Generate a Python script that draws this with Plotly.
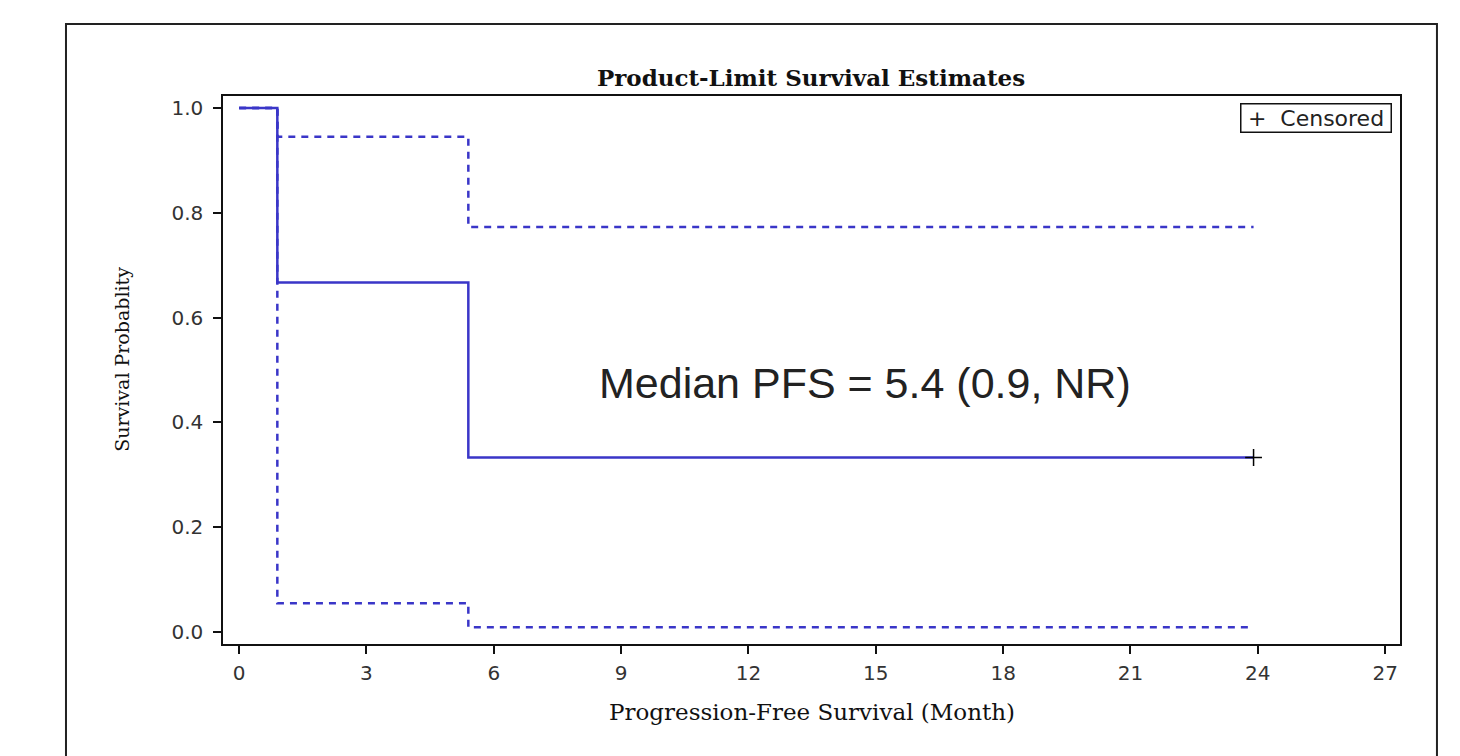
import plotly.graph_objects as go

# Kaplan-Meier step data (time in months)
km_time = [0, 0.9, 0.9, 5.4, 5.4, 23.9]
km_surv = [1.0, 1.0, 0.667, 0.667, 0.333, 0.333]

# Pointwise confidence limits
ci_time = [0, 0.9, 0.9, 5.4, 5.4, 23.9]
ci_upper = [1.0, 1.0, 0.945, 0.945, 0.773, 0.773]
ci_lower = [1.0, 1.0, 0.055, 0.055, 0.009, 0.009]

# Censored observations
cens_time = [23.9]
cens_surv = [0.333]

x_ticks = [0, 3, 6, 9, 12, 15, 18, 21, 24, 27]
y_ticks = [0.0, 0.2, 0.4, 0.6, 0.8, 1.0]

BLUE = "#3a36c8"
SERIF = "DejaVu Serif"
SANS = "DejaVu Sans"

fig = go.Figure()

fig.add_trace(go.Scatter(x=ci_time, y=ci_upper, mode="lines",
                         line=dict(color=BLUE, width=2.5, dash="7px,6px"),
                         showlegend=False, hoverinfo="skip"))
fig.add_trace(go.Scatter(x=ci_time, y=ci_lower, mode="lines",
                         line=dict(color=BLUE, width=2.5, dash="7px,6px"),
                         showlegend=False, hoverinfo="skip"))
fig.add_trace(go.Scatter(x=km_time, y=km_surv, mode="lines",
                         line=dict(color=BLUE, width=2.5),
                         showlegend=False))
fig.add_trace(go.Scatter(x=cens_time, y=cens_surv, mode="markers",
                         marker=dict(symbol="cross-thin", size=12,
                                     line=dict(color="black", width=1.5)),
                         showlegend=False))

fig.update_xaxes(range=[-0.38, 27.35], tickvals=x_ticks,
                 ticktext=[str(v) for v in x_ticks],
                 showgrid=False, zeroline=False,
                 showline=True, linecolor="#111", linewidth=1.5, mirror=True,
                 ticks="outside", ticklen=8, tickwidth=1.5, tickcolor="#111",
                 ticklabelstandoff=2,
                 tickfont=dict(family=SANS, size=20, color="#333"))
fig.update_yaxes(range=[-0.0229, 1.0229], tickvals=y_ticks,
                 ticktext=[f"{v:.1f}" for v in y_ticks],
                 showgrid=False, zeroline=False,
                 showline=True, linecolor="#111", linewidth=1.5, mirror=True,
                 ticks="outside", ticklen=8, tickwidth=1.5, tickcolor="#111",
                 ticklabelstandoff=6,
                 tickfont=dict(family=SANS, size=20, color="#333"))

# axis titles
fig.add_annotation(x=0.5, y=-0.124, xref="paper", yref="paper",
                   xanchor="center", yanchor="middle", showarrow=False,
                   text="Progression-Free Survival (Month)",
                   font=dict(family=SERIF, size=23, color="#111"))
fig.add_annotation(x=-0.086, y=0.52, xref="paper", yref="paper",
                   xanchor="center", yanchor="middle", showarrow=False,
                   textangle=-90, text="Survival Probablity",
                   font=dict(family=SERIF, size=19, color="#111"))

fig.add_annotation(x=14.75, y=0.475, xref="x", yref="y",
                   text="Median PFS = 5.4 (0.9, NR)", showarrow=False,
                   font=dict(family="Liberation Sans", size=43, color="#222"))

# censoring key
fig.add_annotation(x=0.9935, y=0.987, xref="paper", yref="paper",
                   xanchor="right", yanchor="top",
                   text="+  Censored", showarrow=False,
                   width=146, height=24, align="center",
                   bordercolor="#111", borderwidth=1.5, borderpad=1.5,
                   font=dict(family=SANS, size=22, color="#222"))

# outer frame around the whole graphic
fig.add_shape(type="rect", xref="paper", yref="paper",
              x0=-0.1334, x1=1.0314, y0=-0.22, y1=1.1314,
              line=dict(color="#222", width=2))

fig.update_layout(
    width=1460, height=756,
    margin=dict(l=223, r=60, t=96, b=112),
    paper_bgcolor="white", plot_bgcolor="white",
    title=dict(text="<b>Product-Limit Survival Estimates</b>",
               x=(811 / 1460), xref="container", y=1 - 78 / 756,
               yref="container", xanchor="center", yanchor="middle",
               font=dict(family=SERIF, size=23, color="#111")),
)

fig.write_html("out.html")
